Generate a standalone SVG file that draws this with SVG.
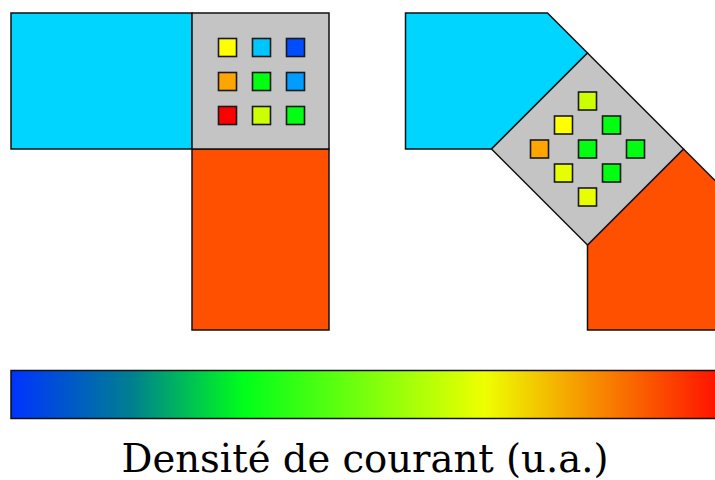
<svg xmlns="http://www.w3.org/2000/svg" width="715" height="480" viewBox="0 0 715 480">
<style>
.sh{stroke:#111;stroke-width:1.5;stroke-linejoin:miter}
.cy{fill:#00d5ff}
.gr{fill:#c4c4c4}
.or{fill:#ff5000}
.sq{stroke:#1a1a1a;stroke-width:1.6}
.lbl{font-family:"DejaVu Serif","Liberation Serif",serif;font-size:38.5px;fill:#000}
</style>
<defs>
<linearGradient id="cbar" gradientUnits="userSpaceOnUse" x1="11" y1="0" x2="718" y2="0">
<stop offset="0" stop-color="#0033ff"/>
<stop offset="0.17" stop-color="#007f90"/>
<stop offset="0.33" stop-color="#00ff1a"/>
<stop offset="0.67" stop-color="#eeff00"/>
<stop offset="0.82" stop-color="#f79000"/>
<stop offset="1" stop-color="#ff1200"/>
</linearGradient>
</defs>
<rect width="715" height="480" fill="#fff"/>
<g id="left-elbow">
<g id="left-cyan"><rect class="sh cy" x="11" y="13" width="181" height="136"/></g>
<g id="left-orange"><rect class="sh or" x="192" y="149" width="137" height="181"/></g>
<g id="left-junction">
<rect class="sh gr" x="192" y="13" width="137" height="136"/>
<rect class="sq" x="218.5" y="38.5" width="18" height="18" fill="#ffff00"/>
<rect class="sq" x="252.5" y="38.5" width="18" height="18" fill="#00c6ff"/>
<rect class="sq" x="286.5" y="38.5" width="18" height="18" fill="#004cff"/>
<rect class="sq" x="218.5" y="72.5" width="18" height="18" fill="#ffa500"/>
<rect class="sq" x="252.5" y="72.5" width="18" height="18" fill="#00ff10"/>
<rect class="sq" x="286.5" y="72.5" width="18" height="18" fill="#009cff"/>
<rect class="sq" x="218.5" y="106.5" width="18" height="18" fill="#ff0000"/>
<rect class="sq" x="252.5" y="106.5" width="18" height="18" fill="#ccff00"/>
<rect class="sq" x="286.5" y="106.5" width="18" height="18" fill="#00ff10"/>
</g>
</g>
<g id="right-elbow">
<g id="right-cyan"><polygon class="sh cy" points="405.5,13 547.5,13 587.5,53 491.5,149 405.5,149"/></g>
<g id="right-orange"><polygon class="sh or" points="587.5,245 683.5,149 724,189.5 724,330 587.5,330"/></g>
<g id="right-junction">
<polygon class="sh gr" points="587.5,53 683.5,149 587.5,245 491.5,149"/>
<rect class="sq" x="578.5" y="92" width="18" height="18" fill="#ccff00"/>
<rect class="sq" x="554.5" y="116" width="18" height="18" fill="#ffff00"/>
<rect class="sq" x="602.5" y="116" width="18" height="18" fill="#00ff10"/>
<rect class="sq" x="530.5" y="140" width="18" height="18" fill="#ffa500"/>
<rect class="sq" x="578.5" y="140" width="18" height="18" fill="#00ff10"/>
<rect class="sq" x="626.5" y="140" width="18" height="18" fill="#00ff10"/>
<rect class="sq" x="554.5" y="164" width="18" height="18" fill="#e6ff00"/>
<rect class="sq" x="602.5" y="164" width="18" height="18" fill="#00ff10"/>
<rect class="sq" x="578.5" y="188" width="18" height="18" fill="#e8ff00"/>
</g>
</g>
<g id="colorbar">
<rect x="11" y="370.5" width="710" height="48" fill="url(#cbar)" stroke="#111" stroke-width="1.5"/>
<text class="lbl" x="121.5" y="472" textLength="487" lengthAdjust="spacingAndGlyphs">Densité de courant (u.a.)</text>
</g>
</svg>
